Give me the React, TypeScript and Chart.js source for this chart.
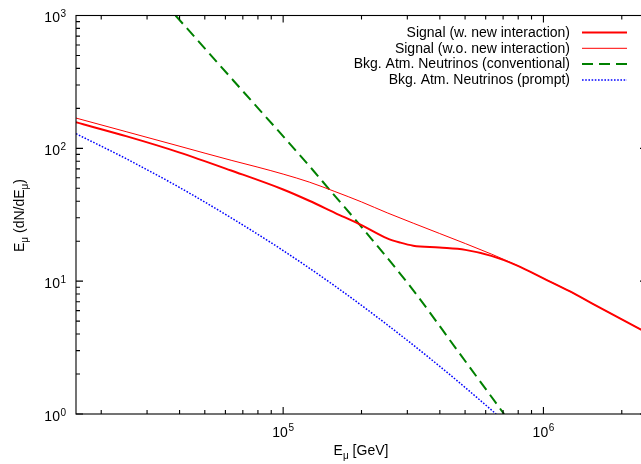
import React, { useEffect, useRef } from "react";
import { Chart, registerables } from "chart.js";

Chart.register(...registerables);

// ---- Data ----
const signalNewE = [1.6e4, 2.51e4, 3.98e4, 6.31e4, 1.0e5, 1.26e5, 1.58e5, 2.0e5, 2.51e5, 2.82e5, 3.16e5, 3.98e5, 5.01e5, 6.31e5, 7.94e5, 1.0e6, 1.26e6, 1.58e6, 2.38e6];
const signalNewFlux = [157, 123, 93.3, 68.1, 49, 40.3, 32.7, 26.4, 21.0, 19.5, 18.5, 17.9, 17.2, 15.5, 13.1, 10.5, 8.4, 6.6, 4.3];

const signalOldE = [1.6e4, 2.51e4, 3.98e4, 6.31e4, 7.94e4, 1.0e5, 1.26e5, 1.58e5, 2.0e5, 2.51e5, 3.98e5, 6.31e5, 7.94e5, 1.0e6, 1.26e6, 1.58e6, 2.38e6];
const signalOldFlux = [169, 133, 104, 81.3, 72.4, 64, 55.7, 47.3, 39.5, 32.7, 22.9, 16.0, 13.1, 10.5, 8.4, 6.6, 4.3];

const convE = [3.86e4, 6.41e4, 1.3e5, 1.51e5, 1.97e5, 3.12e5, 4.66e5, 7.06e5];
const convFlux = [1000, 327, 68.7, 48.6, 26.5, 8.83, 3.03, 1.0];

const promptE = [1.6e4, 2.51e4, 3.98e4, 6.31e4, 1.0e5, 1.58e5, 2.51e5, 3.98e5, 5.01e5, 6.58e5];
const promptFlux = [128.8, 83, 51, 30, 17, 9.2, 4.7, 2.3, 1.58, 1.0];

const seriesLabels = [
  "Signal (w. new interaction)",
  "Signal (w.o. new interaction)",
  "Bkg. Atm. Neutrinos (conventional)",
  "Bkg. Atm. Neutrinos (prompt)",
];

const xMin = 1.6e4;
const xMax = 2.5e6;
const yMin = 1;
const yMax = 1000;
const xTickValues = [2e4, 3e4, 4e4, 5e4, 6e4, 7e4, 8e4, 9e4, 1e5, 2e5, 3e5, 4e5, 5e5, 6e5, 7e5, 8e5, 9e5, 1e6, 2e6];
const yTickValues = [1, 2, 3, 4, 5, 6, 7, 8, 9, 10, 20, 30, 40, 50, 60, 70, 80, 90, 100, 200, 300, 400, 500, 600, 700, 800, 900, 1000];

const xTitle = [{ t: "E" }, { t: "μ", sub: true }, { t: " [GeV]" }];
const yTitle = [{ t: "E" }, { t: "μ", sub: true }, { t: " (dN/dE" }, { t: "μ", sub: true }, { t: ")" }];

// ---- helpers ----
const FONT = "Liberation Sans, Arial, Helvetica, sans-serif";
const BASE = `14px ${FONT}`;
const SMALL = `10px ${FONT}`;
const isPow10 = (v: number) => Math.abs(Math.log10(v) - Math.round(Math.log10(v))) < 1e-9;
const zip = (xs: number[], ys: number[]) => xs.map((x, i) => ({ x, y: ys[i] }));

type Piece = { t: string; sub?: boolean };
function drawRich(ctx: CanvasRenderingContext2D, pieces: Piece[], cx: number, baseline: number) {
  let w = 0;
  for (const p of pieces) {
    ctx.font = p.sub ? SMALL : BASE;
    w += ctx.measureText(p.t).width;
  }
  let x = cx - w / 2;
  ctx.textAlign = "left";
  ctx.textBaseline = "alphabetic";
  for (const p of pieces) {
    ctx.font = p.sub ? SMALL : BASE;
    ctx.fillText(p.t, x, baseline + (p.sub ? 4 : 0));
    x += ctx.measureText(p.t).width;
  }
}

// "10" with a raised exponent; align: "right" or "center"
function drawPow(ctx: CanvasRenderingContext2D, exp: string, x: number, baseline: number, align: "right" | "center", rise: number) {
  ctx.font = BASE;
  const w1 = ctx.measureText("10").width;
  ctx.font = SMALL;
  const w2 = ctx.measureText(exp).width;
  const total = w1 + w2 + 0.5;
  const start = align === "right" ? x - total : x - total / 2;
  ctx.textAlign = "left";
  ctx.textBaseline = "alphabetic";
  ctx.font = BASE;
  ctx.fillText("10", start, baseline);
  ctx.font = SMALL;
  ctx.fillText(exp, start + w1 + 0.5, baseline - rise);
}

const decorPlugin = {
  id: "decor",
  afterDatasetsDraw(chart: any) {
    const { ctx, chartArea: a, scales } = chart;
    ctx.save();
    ctx.strokeStyle = "#000";
    ctx.lineWidth = 1.1;
    ctx.strokeRect(a.left, a.top, a.right - a.left, a.bottom - a.top);
    ctx.beginPath();
    for (const t of scales.x.ticks) {
      const px = scales.x.getPixelForValue(t.value);
      const len = isPow10(t.value) ? 7 : 4;
      ctx.moveTo(px, a.bottom);
      ctx.lineTo(px, a.bottom - len);
      ctx.moveTo(px, a.top);
      ctx.lineTo(px, a.top + len);
    }
    for (const t of scales.y.ticks) {
      const py = scales.y.getPixelForValue(t.value);
      const len = isPow10(t.value) ? 7 : 4;
      ctx.moveTo(a.left, py);
      ctx.lineTo(a.left + len, py);
      ctx.moveTo(a.right, py);
      ctx.lineTo(a.right - len, py);
    }
    ctx.stroke();

    // tick labels (powers of ten)
    ctx.fillStyle = "#000";
    for (const t of scales.x.ticks) {
      if (!isPow10(t.value)) continue;
      const px = scales.x.getPixelForValue(t.value);
      drawPow(ctx, String(Math.round(Math.log10(t.value))), px, a.bottom + 23, "center", 6);
    }
    for (const t of scales.y.ticks) {
      if (!isPow10(t.value)) continue;
      const py = scales.y.getPixelForValue(t.value);
      drawPow(ctx, String(Math.round(Math.log10(t.value))), a.left - 10, py + 6.5, "right", 5);
    }

    // legend (text right-aligned, sample to the right)
    const textRight = 570;
    const sampleL = 582;
    const sampleR = 627;
    const rowY0 = 32.5;
    const rowH = 15.8;
    chart.data.datasets.forEach((ds: any, i: number) => {
      const y = rowY0 + i * rowH;
      ctx.font = BASE;
      ctx.fillStyle = "#000";
      ctx.textAlign = "right";
      ctx.textBaseline = "middle";
      ctx.fillText(ds.label, textRight, y + 0.5);
      ctx.beginPath();
      ctx.strokeStyle = ds.borderColor;
      ctx.lineWidth = ds.borderWidth;
      ctx.setLineDash(ds.borderDash || []);
      ctx.moveTo(sampleL, y);
      ctx.lineTo(sampleR, y);
      ctx.stroke();
      ctx.setLineDash([]);
    });

    // axis titles
    ctx.fillStyle = "#000";
    drawRich(ctx, xTitle, 361, 455);
    ctx.translate(24, 215.5);
    ctx.rotate(-Math.PI / 2);
    drawRich(ctx, yTitle, 0, 0);
    ctx.restore();
  },
};

export default function App() {
  const ref = useRef<HTMLCanvasElement | null>(null);
  useEffect(() => {
    if (!ref.current) return;
    const chart = new Chart(ref.current, {
      type: "line",
      data: {
        datasets: [
          {
            label: seriesLabels[0],
            data: zip(signalNewE, signalNewFlux),
            borderColor: "#ff0000",
            borderWidth: 2,
            pointRadius: 0,
            cubicInterpolationMode: "monotone",
            fill: false,
          },
          {
            label: seriesLabels[1],
            data: zip(signalOldE, signalOldFlux),
            borderColor: "#ff0000",
            borderWidth: 1,
            pointRadius: 0,
            cubicInterpolationMode: "monotone",
            fill: false,
          },
          {
            label: seriesLabels[2],
            data: zip(convE, convFlux),
            borderColor: "#008000",
            borderWidth: 2,
            borderDash: [11, 6],
            pointRadius: 0,
            cubicInterpolationMode: "monotone",
            fill: false,
          },
          {
            label: seriesLabels[3],
            data: zip(promptE, promptFlux),
            borderColor: "#0000ff",
            borderWidth: 1.5,
            borderDash: [1.6, 1.6],
            pointRadius: 0,
            cubicInterpolationMode: "monotone",
            fill: false,
          },
        ],
      } as any,
      plugins: [decorPlugin],
      options: {
        animation: false,
        responsive: false,
        layout: { padding: { top: 15.5, right: 13, left: 0, bottom: 0 } },
        plugins: { legend: { display: false }, tooltip: { enabled: false } },
        scales: {
          x: {
            type: "logarithmic",
            min: xMin,
            max: xMax,
            grid: { display: false, drawTicks: false },
            border: { display: false },
            afterBuildTicks: (s: any) => {
              s.ticks = xTickValues.map((v) => ({ value: v }));
            },
            afterFit: (s: any) => {
              s.height = 50;
              s.paddingLeft = 0;
              s.paddingRight = 0;
            },
            ticks: { display: false, autoSkip: false },
          },
          y: {
            type: "logarithmic",
            min: yMin,
            max: yMax,
            grid: { display: false, drawTicks: false },
            border: { display: false },
            afterBuildTicks: (s: any) => {
              s.ticks = yTickValues.map((v) => ({ value: v }));
            },
            afterFit: (s: any) => {
              s.width = 76;
              s.paddingTop = 0;
              s.paddingBottom = 0;
            },
            ticks: { display: false, autoSkip: false },
          },
        },
      } as any,
    });
    return () => chart.destroy();
  }, []);
  return (
    <div style={{ position: "fixed", left: 0, top: 0, width: 660, height: 464, background: "#fff" }}>
      <canvas ref={ref} width={660} height={464} style={{ display: "block" }} />
    </div>
  );
}
